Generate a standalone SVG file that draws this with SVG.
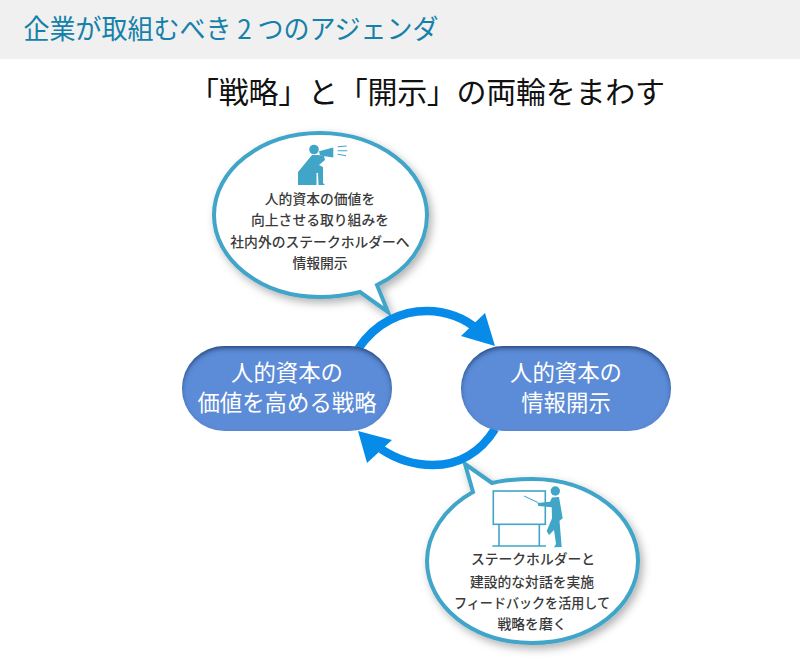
<svg xmlns="http://www.w3.org/2000/svg" width="800" height="661" viewBox="0 0 800 661">
<style>
text{font-family:"Noto Sans CJK JP","Noto Sans",sans-serif;text-anchor:middle}
.bub{fill:#fff;stroke:#41a5c8;stroke-width:4;stroke-linejoin:miter}
.bt{font-size:13.8px;fill:#3a3a3a;font-weight:500}
.pt{font-size:22.4px;fill:#fff}
.pill{fill:#5b8bd7}
.ic{fill:#41a5c8}
.il{fill:none;stroke:#41a5c8}
.arc{fill:none;stroke:#068ce8;stroke-width:8.5}
.head{fill:#068ce8}
</style>
<defs>
<filter id="sh" x="-15%" y="-15%" width="135%" height="135%"><feDropShadow dx="3" dy="4" stdDeviation="4" flood-color="#000" flood-opacity="0.3"/></filter>
<filter id="inner" x="-5%" y="-5%" width="110%" height="110%">
<feOffset dx="0" dy="2.5" in="SourceAlpha" result="o"/>
<feGaussianBlur in="o" stdDeviation="2.2" result="b"/>
<feComposite in="SourceAlpha" in2="b" operator="out" result="e"/>
<feFlood flood-color="#1d3a70" flood-opacity="0.85"/>
<feComposite in2="e" operator="in" result="s"/>
<feMerge><feMergeNode in="SourceGraphic"/><feMergeNode in="s"/></feMerge>
</filter>
</defs>
<rect id="header" x="0" y="0" width="800" height="59" fill="#f0f0f0"/>
<text id="title" x="231" y="39" style="font-size:27px;fill:#1581aa" textLength="415" lengthAdjust="spacingAndGlyphs">企業が取組むべき 2 つのアジェンダ</text>
<text id="subtitle" x="427" y="103" style="font-size:30px;fill:#111" textLength="476" lengthAdjust="spacing">「戦略」と「開示」の両輪をまわす</text>

<g id="bubble-top">
<path class="bub" filter="url(#sh)" d="M360 292 C344 296 332 297 320 297 C261 297 214 260 214 215 C214 170 261 133 320 133 C379 133 427 170 427 215 C427 245 408 270 377 285 L388 312 Z"/>
<g id="icon-megaphone">
<circle class="ic" cx="314" cy="149.5" r="4.8"/>
<path class="ic" d="M319 151.3 L333.3 147.5 L333.3 157.5 L320 155.5 Z"/>
<path class="il" stroke-width="1.1" d="M337.7 146.7 L346.7 146 M337.7 150.7 L347.3 150.7 M337.7 154.3 L346 155.7"/>
<path class="ic" d="M298 185 L298 172 L312 155 L318 155 L324 156 L325 160 L319 165 L323 167 L323 183 L325 185 L318.5 185 L318 173 L316.5 173 L316.5 185 Z"/>
</g>
<text class="bt" x="320" y="204">人的資本の価値を</text>
<text class="bt" x="320" y="225">向上させる取り組みを</text>
<text class="bt" x="320" y="247">社内外のステークホルダーへ</text>
<text class="bt" x="320" y="268">情報開示</text>
</g>

<g id="bubble-bottom">
<path class="bub" filter="url(#sh)" d="M492 483 C505 480 518 479 532 479 C591 479 638 516 638 561 C638 606 591 643 532 643 C473 643 427 606 427 561 C427 535 444 508 473 492 L465 464 Z"/>
<g id="icon-presenter">
<rect class="il" stroke-width="1.6" x="493.3" y="491" width="52" height="33.3"/>
<path class="il" stroke-width="1.6" d="M499 524.3 V546 M539.3 524.3 V546 M492.3 546 H546"/>
<path class="il" stroke-width="1" d="M524 496 L538.3 502.7"/>
<circle class="ic" cx="555.3" cy="491" r="4.7"/>
<path class="ic" d="M537.7 503 L550 501.7 L552 497.5 L559 497 L562.7 518.3 L559.5 520.7 L561.7 547 L554 547.3 L556 544 L554 530 L549 535 L546.7 531 L552 518.3 L551.7 507.3 L538.3 506 Z"/>
</g>
<text class="bt" x="533" y="564">ステークホルダーと</text>
<text class="bt" x="532" y="587">建設的な対話を実施</text>
<text class="bt" x="532" y="608" textLength="156" lengthAdjust="spacingAndGlyphs">フィードバックを活用して</text>
<text class="bt" x="532" y="629">戦略を磨く</text>
</g>

<g id="connectors">
<path class="arc" d="M358 349 C376 322 402 311 427 311 C446 311 465 318 478 330"/>
<path class="head" d="M495 346 L485 313 L461 336 Z"/>
<path class="arc" d="M495 429 C480 453 458 465 433 465 C414 465 396 459 381 449"/>
<path class="head" d="M358 431 L392 440 L367 463 Z"/>
</g>

<g id="node-strategy">
<rect class="pill" filter="url(#inner)" x="182" y="346" width="210" height="85" rx="42.5"/>
<text class="pt" x="287" y="381">人的資本の</text>
<text class="pt" x="287" y="411">価値を高める戦略</text>
</g>
<g id="node-disclosure">
<rect class="pill" filter="url(#inner)" x="461" y="346" width="210" height="85" rx="42.5"/>
<text class="pt" x="566" y="381">人的資本の</text>
<text class="pt" x="566" y="411">情報開示</text>
</g>
</svg>
